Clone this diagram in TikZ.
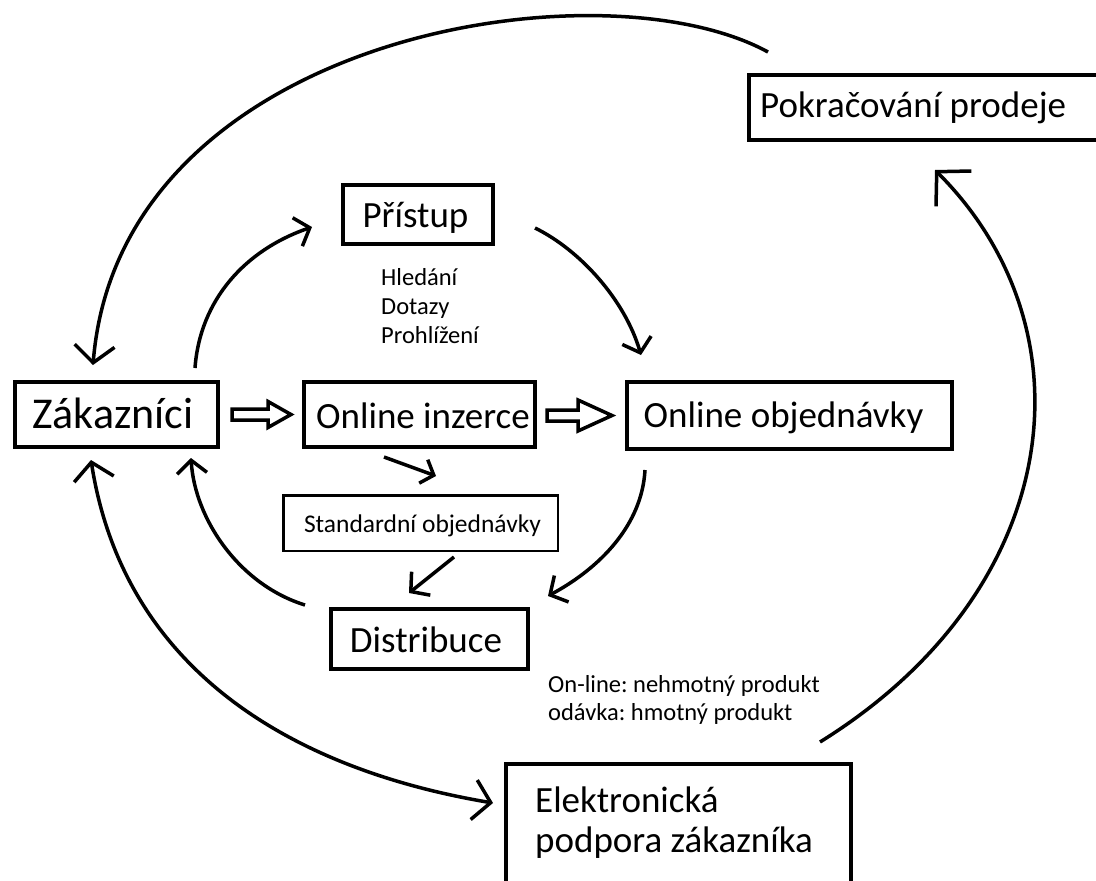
\documentclass[tikz,border=0pt]{standalone}
\usepackage{fontspec}
\setmainfont{Carlito}
\frenchspacing
\usetikzlibrary{arrows.meta}
\tikzset{
  barbL/.tip={Straight Barb[length=17pt,width=40pt]},
  barbM/.tip={Straight Barb[length=13pt,width=30pt]},
  barbS/.tip={Straight Barb[length=11pt,width=25pt]},
  barbR/.tip={Straight Barb[length=24pt,width=50pt]},
}
\begin{document}
\begin{tikzpicture}[x=1pt,y=-1pt,
  box/.style={draw, line width=4pt, rectangle, inner sep=0pt, outer sep=0pt},
  thinbox/.style={draw, line width=2.5pt, rectangle, inner sep=0pt, outer sep=0pt},
  hugetxt/.style={font=\fontsize{44}{48}\selectfont, inner sep=0pt},
  bigtxt/.style={font=\fontsize{37}{40}\selectfont, inner sep=0pt},
  midtxt/.style={font=\fontsize{25.5}{29}\selectfont, inner sep=0pt},
  smalltxt/.style={font=\fontsize{24.5}{28}\selectfont, inner sep=0pt},
  flow/.style={line width=3.5pt},
  hollow/.style={line width=3.5pt, miter limit=10},
]
\useasboundingbox (0,0) rectangle (1096,881);
\fill[white] (0,0) rectangle (1096,881);

% boxes
\node[box, minimum width=203.5pt, minimum height=65pt] (zak) at (116.25,414.5) {};
\node[box, minimum width=231pt, minimum height=65pt] (oin) at (419.5,414.5) {};
\node[box, minimum width=325pt, minimum height=67pt] (onl) at (789.5,415.5) {};
\node[box, minimum width=150pt, minimum height=59pt] (pri) at (418,214.5) {};
\node[box, minimum width=361pt, minimum height=65pt] (pok) at (929.5,107.5) {};
\node[thinbox, minimum width=274.5pt, minimum height=55.5pt] (std) at (420.5,523) {};
\node[box, minimum width=197pt, minimum height=60pt] (dist) at (429.5,639) {};
\node[box, minimum width=345pt, minimum height=134pt] (elek) at (678.5,831) {};

% box labels
\node[hugetxt, anchor=base] (zaktxt) at (113,428) {Zákazníci};
\node[bigtxt, anchor=base] (ointxt) at (423,428) {Online inzerce};
\node[bigtxt, anchor=base] (onltxt) at (783.5,427) {Online objednávky};
\node[bigtxt, anchor=base] (pritxt) at (415.5,227) {Přístup};
\node[bigtxt, anchor=base west] (poktxt) at (760,117) {Pokračování prodeje};
\node[midtxt, anchor=base] (stdtxt) at (422.5,532) {Standardní objednávky};
\node[bigtxt, anchor=base] (disttxt) at (426,652) {Distribuce};
\node[bigtxt, anchor=base west] (elektxt1) at (535,812) {Elektronická};
\node[bigtxt, anchor=base west] (elektxt2) at (535,852) {podpora zákazníka};

% side notes
\node[smalltxt, anchor=base west] (note1) at (381,285) {Hledání};
\node[smalltxt, anchor=base west] (note2) at (381,314) {Dotazy};
\node[smalltxt, anchor=base west] (note3) at (381,343) {Prohlížení};
\node[smalltxt, anchor=base west] (note4) at (548,692) {On-line: nehmotný produkt};
\node[smalltxt, anchor=base west] (note5) at (548,720) {odávka: hmotný produkt};

% connector end points
\coordinate (pokOut) at (768,52);
\coordinate (zakTop) at (93,365);
\coordinate (elekOut) at (820,742);
\coordinate (pokIn) at (935,170);
\coordinate (zakLow) at (91,460);
\coordinate (elekIn) at (493,803);
\coordinate (distOut) at (305,605);
\coordinate (zakLow2) at (191,458);
\coordinate (zakOut) at (195,368);
\coordinate (priIn) at (312,227);
\coordinate (priOut) at (535,228);
\coordinate (onlIn) at (641,355);
\coordinate (onlOut) at (645,470);
\coordinate (distIn) at (548,596);
\coordinate (oinOut) at (384,457);
\coordinate (stdIn) at (436,476);
\coordinate (stdOut) at (454,557);
\coordinate (distIn2) at (409,593);

% outer loop
\draw[flow, -{barbL}] (pokOut) .. controls (600,-40) and (120,35) .. (zakTop);
\draw[flow, -{barbR}] (elekOut) .. controls (1065,590) and (1095,330) .. (pokIn);
\draw[flow, {barbL}-{barbL}] (zakLow) .. controls (123,665) and (285,768) .. (elekIn);

% inner loop
\draw[flow, -{barbM}] (zakOut) .. controls (200,300) and (245,250) .. (priIn);
\draw[flow, -{barbM}] (priOut) .. controls (580,250) and (625,300) .. (onlIn);
\draw[flow, -{barbM}] (onlOut) .. controls (642,525) and (600,568) .. (distIn);
\draw[flow, -{barbM}] (distOut) .. controls (240,585) and (195,520) .. (zakLow2);
\draw[flow, -{barbS}] (oinOut) -- (stdIn);
\draw[flow, -{barbM}] (stdOut) -- (distIn2);

% hollow block arrows along the main row
\draw[hollow] (232,409) -- (268,409) -- (268,401.5) -- (291,414.5) -- (268,427.5) -- (268,420) -- (232,420) -- cycle;
\draw[hollow] (547,410) -- (578,410) -- (578,400) -- (612,415.5) -- (578,431) -- (578,421) -- (547,421) -- cycle;
\end{tikzpicture}
\end{document}
